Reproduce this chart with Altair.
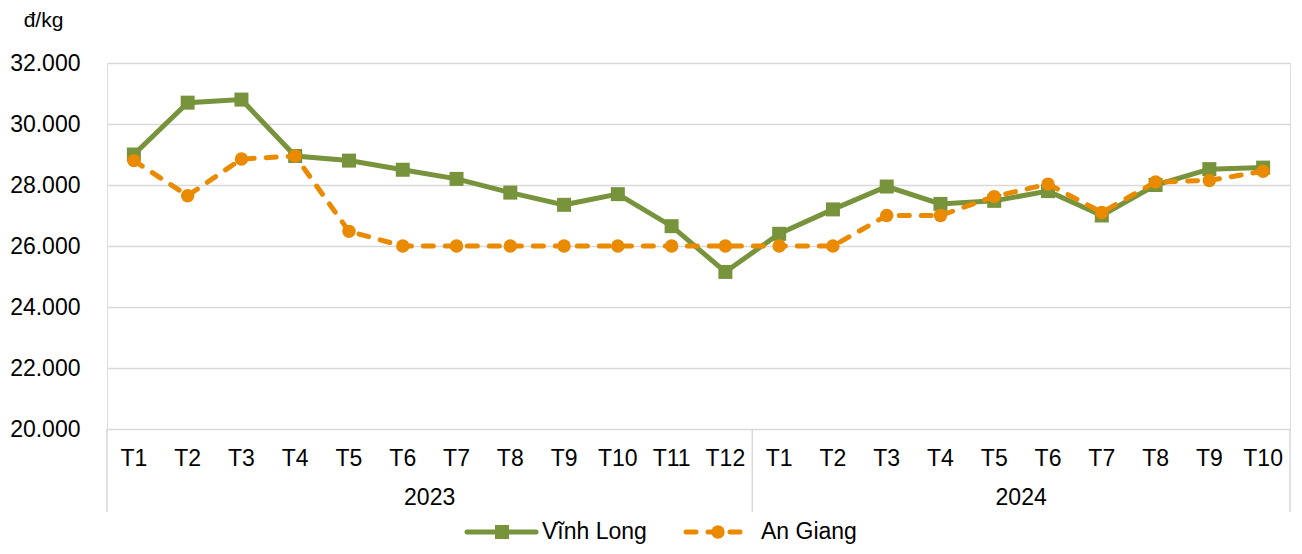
import altair as alt
import pandas as pd

months = ["T1", "T2", "T3", "T4", "T5", "T6", "T7", "T8", "T9", "T10", "T11", "T12",
          "T1", "T2", "T3", "T4", "T5", "T6", "T7", "T8", "T9", "T10"]
years = ["2023"] * 12 + ["2024"] * 10
vinh_long = [29000, 30700, 30800, 28950, 28800, 28500, 28200, 27750, 27350, 27700, 26650, 25150,
             26400, 27200, 27950, 27380, 27480, 27800, 27000, 28000, 28520, 28570]
an_giang = [28800, 27650, 28850, 28950, 26480, 26000, 26000, 26000, 26000, 26000, 26000, 26000,
            26000, 26000, 27000, 27000, 27620, 28030, 27100, 28100, 28150, 28450]
series_names = ["Vĩnh Long", "An Giang"]
colors = ["#77933C", "#E98A00"]

FONT = "Liberation Sans"
FS = 23

rows = []
for i, m in enumerate(months):
    rows.append({"pos": i + 0.5, "month": m, "year": years[i], "series": series_names[0], "value": vinh_long[i]})
    rows.append({"pos": i + 0.5, "month": m, "year": years[i], "series": series_names[1], "value": an_giang[i]})
df = pd.DataFrame(rows)

month_df = pd.DataFrame({"pos": [i + 0.5 for i in range(len(months))], "month": months})

# year groups
year_list = []
for y in years:
    if y not in year_list:
        year_list.append(y)
starts, ends = [], []
for y in year_list:
    idx = [i for i, v in enumerate(years) if v == y]
    starts.append(idx[0])
    ends.append(idx[-1] + 1)
year_df = pd.DataFrame({"year": year_list, "center": [(s + e) / 2 for s, e in zip(starts, ends)]})
sep_df = pd.DataFrame({"b": sorted(set(starts + ends))})

N = len(months)
xscale = alt.Scale(domain=[0, N], nice=False, zero=False)
yscale = alt.Scale(domain=[20000, 32000], nice=False, zero=False)

yaxis = alt.Axis(
    values=list(range(20000, 32001, 2000)),
    labelExpr="replace(format(datum.value, ','), ',', '.')",
    grid=True, gridColor="#D9D9D9", gridWidth=1.5,
    domain=False, ticks=False,
    labelFontSize=FS, labelFont=FONT, labelColor="#000000", labelPadding=27,
    title="đ/kg", titleAngle=0, titleX=-64, titleY=-43, titleAlign="center",
    titleBaseline="middle", titleFontSize=21, titleFont=FONT, titleFontWeight="normal",
    titleColor="#000000",
)

base = alt.Chart(df).encode(
    x=alt.X("pos:Q", scale=xscale, axis=None),
    y=alt.Y("value:Q", scale=yscale, axis=yaxis),
)

layers = []
for name, col in zip(series_names, colors):
    sub = base.transform_filter(alt.datum.series == name)
    if name == series_names[0]:
        line = sub.mark_line(color=col, strokeWidth=5)
        pts = sub.mark_point(shape="square", filled=True, opacity=1, color=col, size=196)
    else:
        line = sub.mark_line(color=col, strokeWidth=5, strokeDash=[10, 12], strokeCap="round")
        pts = sub.mark_point(shape="circle", filled=True, opacity=1, color=col, size=180)
    layers += [line, pts]

month_text = alt.Chart(month_df).mark_text(fontSize=FS, font=FONT, color="#000000", baseline="middle").encode(
    x=alt.X("pos:Q", scale=xscale, axis=None), y=alt.value(396), text="month:N")
year_text = alt.Chart(year_df).mark_text(fontSize=FS, font=FONT, color="#000000", baseline="middle").encode(
    x=alt.X("center:Q", scale=xscale, axis=None), y=alt.value(435), text="year:N")
seps = alt.Chart(sep_df).mark_rule(color="#D9D9D9", strokeWidth=1.5).encode(
    x=alt.X("b:Q", scale=xscale, axis=None), y=alt.value(366), y2=alt.value(449))

# manual legend
leg_y = 469
leg_vl_line = alt.Chart(pd.DataFrame({"s": [series_names[0]]})).mark_rule(
    color=colors[0], strokeWidth=5, strokeCap="round").encode(
    x=alt.value(360), x2=alt.value(429), y=alt.value(leg_y))
leg_vl_pt = alt.Chart(pd.DataFrame({"s": [series_names[0]]})).mark_point(
    shape="square", filled=True, opacity=1, color=colors[0], size=196).encode(x=alt.value(395), y=alt.value(leg_y))
leg_vl_txt = alt.Chart(pd.DataFrame({"s": [series_names[0]]})).mark_text(
    fontSize=FS, font=FONT, color="#000000", align="left", baseline="middle").encode(
    x=alt.value(435), y=alt.value(leg_y), text="s:N")
leg_ag_line = alt.Chart(pd.DataFrame({"s": [series_names[1]]})).mark_rule(
    color=colors[1], strokeWidth=5, strokeDash=[10, 12], strokeCap="round").encode(
    x=alt.value(579), x2=alt.value(639), y=alt.value(leg_y))
leg_ag_pt = alt.Chart(pd.DataFrame({"s": [series_names[1]]})).mark_point(
    shape="circle", filled=True, opacity=1, color=colors[1], size=180).encode(x=alt.value(611), y=alt.value(leg_y))
leg_ag_txt = alt.Chart(pd.DataFrame({"s": [series_names[1]]})).mark_text(
    fontSize=FS, font=FONT, color="#000000", align="left", baseline="middle").encode(
    x=alt.value(654), y=alt.value(leg_y), text="s:N")

chart = alt.layer(
    seps, *layers, month_text, year_text,
    leg_vl_line, leg_vl_pt, leg_vl_txt, leg_ag_line, leg_ag_pt, leg_ag_txt,
).properties(
    width=1183, height=366,
    autosize=alt.AutoSizeParams(type="none"),
    padding={"left": 99, "top": 55, "right": 2, "bottom": 117},
).configure_view(stroke=None).configure(background="#FFFFFF")

chart.save("out.html", embed_options={"renderer": "svg", "actions": False})
